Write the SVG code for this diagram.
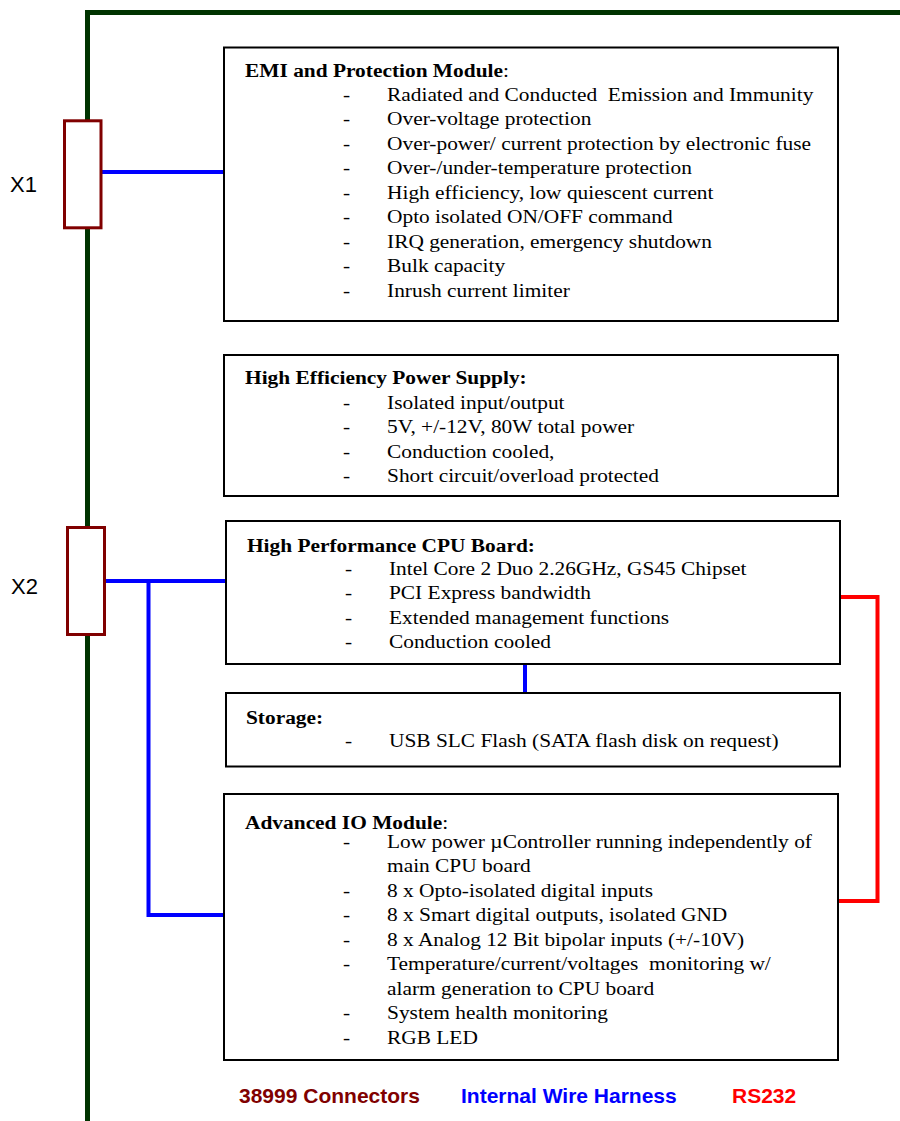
<svg xmlns="http://www.w3.org/2000/svg" width="900" height="1121" viewBox="0 0 900 1121">
<style>
.box{fill:#fff;stroke:#000;stroke-width:2}
.conn{fill:#fff;stroke:#800000;stroke-width:3}
.t{font-family:"Liberation Serif","Times New Roman",serif;font-size:18.7px;fill:#000}
.b{font-weight:bold}
.lbl{font-family:"Liberation Sans",Arial,sans-serif;font-size:22px;fill:#000}
.leg{font-family:"Liberation Sans",Arial,sans-serif;font-size:21px;font-weight:bold}
.wire{fill:none;stroke:#0000ff;stroke-width:4}
.rs{fill:none;stroke:#ff0000;stroke-width:4}
</style>
<rect width="900" height="1121" fill="#fff"/>
<g id="bus">
<polyline points="87.5,1121 87.5,12.5 900,12.5" fill="none" stroke="#003300" stroke-width="5"/>
</g>
<g id="connectors">
<line class="wire" x1="102" y1="172" x2="225" y2="172"/>
<line class="wire" x1="105" y1="581" x2="226" y2="581"/>
<polyline class="wire" points="148.5,581 148.5,915 225,915"/>
<line class="wire" x1="525" y1="664" x2="525" y2="693"/>
<polyline class="rs" points="840,597 877.5,597 877.5,901 838,901"/>
</g>
<g id="X1">
<rect class="conn" x="64.5" y="120.8" width="36.5" height="107"/>
<text class="lbl" x="10" y="192">X1</text>
</g>
<g id="X2">
<rect class="conn" x="67.5" y="527.5" width="37" height="107"/>
<text class="lbl" x="11" y="594">X2</text>
</g>
<g id="emi">
<rect class="box" x="224" y="47.5" width="614" height="273.5"/>
<g class="t" transform="scale(1.144,1)">
<text x="214.2" y="77"><tspan class="b">EMI and Protection Module</tspan>:</text>
<text x="299.8" y="101">-</text><text x="338.3" y="101" xml:space="preserve">Radiated and Conducted  Emission and Immunity</text>
<text x="299.8" y="125.5">-</text><text x="338.3" y="125.5">Over-voltage protection</text>
<text x="299.8" y="150">-</text><text x="338.3" y="150">Over-power/ current protection by electronic fuse</text>
<text x="299.8" y="174.5">-</text><text x="338.3" y="174.5">Over-/under-temperature protection</text>
<text x="299.8" y="199">-</text><text x="338.3" y="199">High efficiency, low quiescent current</text>
<text x="299.8" y="223.5">-</text><text x="338.3" y="223.5">Opto isolated ON/OFF command</text>
<text x="299.8" y="248">-</text><text x="338.3" y="248">IRQ generation, emergency shutdown</text>
<text x="299.8" y="272.5">-</text><text x="338.3" y="272.5">Bulk capacity</text>
<text x="299.8" y="297">-</text><text x="338.3" y="297">Inrush current limiter</text>
</g>
</g>
<g id="psu">
<rect class="box" x="224" y="355" width="614" height="141"/>
<g class="t" transform="scale(1.144,1)">
<text class="b" x="214.2" y="384">High Efficiency Power Supply:</text>
<text x="299.8" y="409">-</text><text x="338.3" y="409">Isolated input/output</text>
<text x="299.8" y="433.5">-</text><text x="338.3" y="433.5">5V, +/-12V, 80W total power</text>
<text x="299.8" y="458">-</text><text x="338.3" y="458">Conduction cooled,</text>
<text x="299.8" y="482.5">-</text><text x="338.3" y="482.5">Short circuit/overload protected</text>
</g>
</g>
<g id="cpu">
<rect class="box" x="226" y="521" width="614" height="143"/>
<g class="t" transform="scale(1.144,1)">
<text class="b" x="215.9" y="552">High Performance CPU Board:</text>
<text x="301.6" y="575">-</text><text x="340" y="575">Intel Core 2 Duo 2.26GHz, GS45 Chipset</text>
<text x="301.6" y="599.5">-</text><text x="340" y="599.5">PCI Express bandwidth</text>
<text x="301.6" y="624">-</text><text x="340" y="624">Extended management functions</text>
<text x="301.6" y="648.5">-</text><text x="340" y="648.5">Conduction cooled</text>
</g>
</g>
<g id="storage">
<rect class="box" x="226" y="693" width="614" height="73.5"/>
<g class="t" transform="scale(1.144,1)">
<text class="b" x="215" y="724">Storage:</text>
<text x="301.6" y="747">-</text><text x="340" y="747">USB SLC Flash (SATA flash disk on request)</text>
</g>
</g>
<g id="io">
<rect class="box" x="224" y="794" width="614" height="266"/>
<g class="t" transform="scale(1.144,1)">
<text x="214.2" y="829"><tspan class="b">Advanced IO Module</tspan>:</text>
<text x="299.8" y="848">-</text><text x="338.3" y="848">Low power µController running independently of</text>
<text x="338.3" y="872.5">main CPU board</text>
<text x="299.8" y="897">-</text><text x="338.3" y="897">8 x Opto-isolated digital inputs</text>
<text x="299.8" y="921.5">-</text><text x="338.3" y="921.5">8 x Smart digital outputs, isolated GND</text>
<text x="299.8" y="946">-</text><text x="338.3" y="946">8 x Analog 12 Bit bipolar inputs (+/-10V)</text>
<text x="299.8" y="970.5">-</text><text x="338.3" y="970.5" xml:space="preserve">Temperature/current/voltages  monitoring w/</text>
<text x="338.3" y="995">alarm generation to CPU board</text>
<text x="299.8" y="1019.5">-</text><text x="338.3" y="1019.5">System health monitoring</text>
<text x="299.8" y="1044">-</text><text x="338.3" y="1044">RGB LED</text>
</g>
</g>
<g id="legend">
<text class="leg" x="239" y="1103" fill="#800000">38999 Connectors</text>
<text class="leg" x="461" y="1103" fill="#0000ff">Internal Wire Harness</text>
<text class="leg" x="732" y="1103" fill="#ff0000">RS232</text>
</g>
</svg>
